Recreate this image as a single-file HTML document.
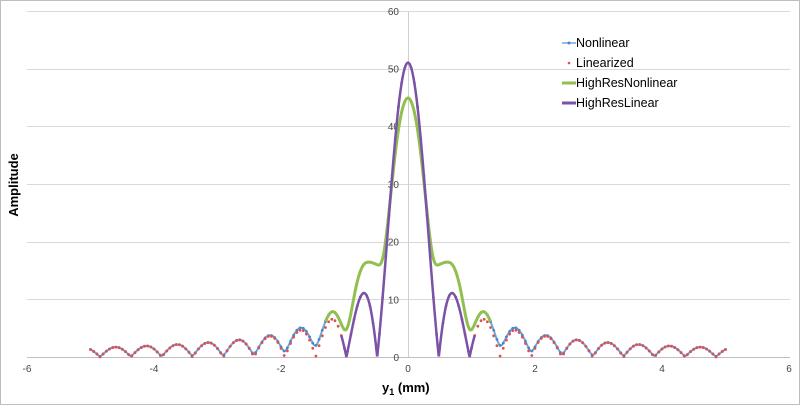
<!DOCTYPE html>
<html><head><meta charset="utf-8"><style>
body{margin:0;background:#fff}
svg{display:block;font-family:"Liberation Sans",sans-serif}
</style></head><body>
<svg id="s" width="800" height="405" xmlns="http://www.w3.org/2000/svg">
<rect x="0.5" y="0.5" width="799" height="404" fill="#fff" stroke="#bdbdbd"/>
<g id="grid" stroke="#d9d9d9" stroke-width="1"></g>
<line x1="408.5" y1="11" x2="408.5" y2="357" stroke="#d0d0d0"/>
<line x1="27" y1="357.5" x2="790" y2="357.5" stroke="#bfbfbf"/>
<g id="lab" font-size="10" fill="#444"></g>
<g id="ser"></g>
<text x="18" y="185" font-size="13" font-weight="bold" text-anchor="middle" transform="rotate(-90 18 185)">Amplitude</text>
<text x="382" y="392" font-size="13" font-weight="bold">y<tspan font-size="9" dy="3">1</tspan><tspan dy="-3"> (mm)</tspan></text>
<g font-size="12.5" fill="#000">
<line x1="562" y1="43" x2="576" y2="43" stroke="#6fa8dc" stroke-width="1.5"/><circle cx="569" cy="43" r="1.5" fill="#4a86c8"/>
<text x="576" y="47">Nonlinear</text>
<circle cx="569" cy="63" r="1.3" fill="#e05050"/>
<text x="576" y="67">Linearized</text>
<line x1="562" y1="83" x2="576" y2="83" stroke="#92c050" stroke-width="3"/>
<text x="576" y="87">HighResNonlinear</text>
<line x1="562" y1="103" x2="576" y2="103" stroke="#7a52a8" stroke-width="3"/>
<text x="576" y="107">HighResLinear</text>
</g>
</svg>
<script>
var NS="http://www.w3.org/2000/svg";
function px(x){return 408+x*63.5;}
function py(y){return 357-y*5.77;}
function el(t,a,p){var e=document.createElementNS(NS,t);for(var k in a)e.setAttribute(k,a[k]);p.appendChild(e);return e;}
var g=document.getElementById('grid'),lab=document.getElementById('lab'),ser=document.getElementById('ser');
for(var v=10;v<=60;v+=10){var y=Math.round(py(v))+0.5;el('line',{x1:27,x2:790,y1:y,y2:y},g);}
for(var v=0;v<=60;v+=10){var t=el('text',{x:399,y:py(v)+4,'text-anchor':'end'},lab);t.textContent=v;}
for(var v=-6;v<=6;v+=2){var t=el('text',{x:px(v),y:372,'text-anchor':'middle'},lab);t.textContent=v;}
function L(x){var u=Math.PI*x/0.485;return Math.abs(u==0?51:51*Math.sin(u)/u);}
var kx=[-0.15,0,0.15,0.25,0.36,0.45,0.52,0.65,0.8,0.97,1.2,1.45,1.7,1.95,2.2,2.44,3,6,7],
    kb=[3,0,3,7,12,15.5,15.8,12.5,9.6,4.8,4.3,2,2,1,1,0.5,0.3,0.05,0];
function B(x){x=Math.abs(x);
 for(var i=1;i<kx.length-2;i++){if(x<=kx[i+1]){
  var h=kx[i+1]-kx[i],f=(x-kx[i])/h;
  var m0=(kb[i+1]-kb[i-1])/(kx[i+1]-kx[i-1])*h, m1=(kb[i+2]-kb[i])/(kx[i+2]-kx[i])*h;
  var f2=f*f,f3=f2*f;
  var v=(2*f3-3*f2+1)*kb[i]+(f3-2*f2+f)*m0+(-2*f3+3*f2)*kb[i+1]+(f3-f2)*m1;
  return Math.max(v,0);}}
 return 0.05;}
function N(x){var k=1-0.12*Math.exp(-Math.pow(x/0.3,2));var l=L(x)*k;return Math.sqrt(l*l+B(x)*B(x));}
function path(f,a,b,st){var d='';for(var x=a;x<=b+1e-9;x+=st){d+=(d?'L':'M')+px(x).toFixed(2)+','+py(f(x)).toFixed(2);}return d;}
el('path',{d:path(N,-5,5,0.01),fill:'none',stroke:'#6fa8dc','stroke-width':2},ser);
for(var x=-5;x<=5.001;x+=0.05){el('circle',{cx:px(x),cy:py(N(x)),r:1.4,fill:'#4a86c8'},ser);}
for(var x=-5;x<=5.001;x+=0.05){el('circle',{cx:px(x),cy:py(L(x)),r:1.4,fill:'#e05050'},ser);}
el('path',{d:path(N,-1.3,1.3,0.005),fill:'none',stroke:'#92c050','stroke-width':3},ser);
el('path',{d:path(L,-1.05,1.05,0.004),fill:'none',stroke:'#7a52a8','stroke-width':2.5},ser);
</script>
</body></html>
